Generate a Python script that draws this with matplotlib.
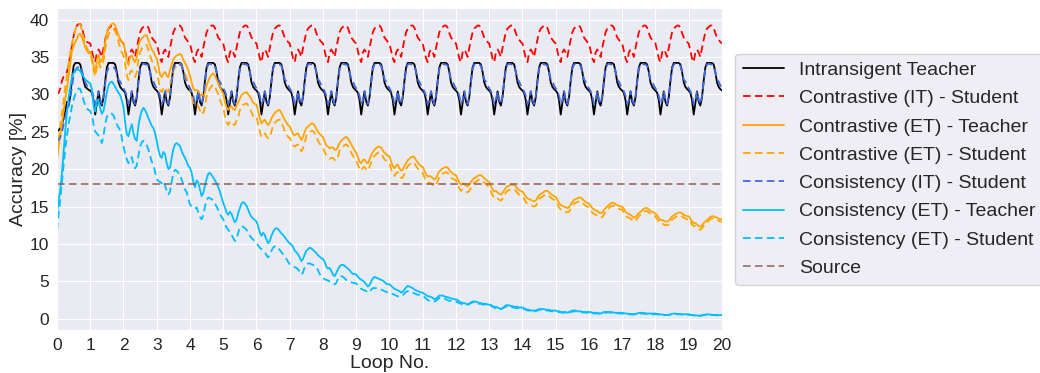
import numpy as np
import matplotlib
matplotlib.use("Agg")
import matplotlib.pyplot as plt
import seaborn as sns

# ---------------- data (20 samples per loop, 0.05 loop spacing) ----------------
n_loops = 20

labels = ["Intransigent Teacher", "Contrastive (IT) - Student", "Contrastive (ET) - Teacher",
          "Contrastive (ET) - Student", "Consistency (IT) - Student", "Consistency (ET) - Teacher",
          "Consistency (ET) - Student", "Source"]

intransigent_teacher = [
    25.0, 25.2, 25.5, 26.0, 26.8, 27.8, 29.0, 28.5, 29.8, 32.0, 33.8, 34.2, 34.2, 34.2, 34.0, 33.0, 31.8, 31.0, 30.8, 30.6,
    30.5, 30.2, 29.2, 27.3, 28.8, 30.4, 29.0, 28.5, 29.6, 31.8, 33.6, 34.2, 34.2, 34.2, 34.2, 34.0, 33.0, 31.6, 31.0, 30.7,
    30.5, 30.2, 29.2, 27.3, 28.8, 30.4, 29.0, 28.5, 29.6, 31.8, 33.6, 34.2, 34.2, 34.2, 34.2, 34.0, 33.0, 31.6, 31.0, 30.7,
    30.5, 30.2, 29.2, 27.3, 28.8, 30.4, 29.0, 28.5, 29.6, 31.8, 33.6, 34.2, 34.2, 34.2, 34.2, 34.0, 33.0, 31.6, 31.0, 30.7,
    30.5, 30.2, 29.2, 27.3, 28.8, 30.4, 29.0, 28.5, 29.6, 31.8, 33.6, 34.2, 34.2, 34.2, 34.2, 34.0, 33.0, 31.6, 31.0, 30.7,
    30.5, 30.2, 29.2, 27.3, 28.8, 30.4, 29.0, 28.5, 29.6, 31.8, 33.6, 34.2, 34.2, 34.2, 34.2, 34.0, 33.0, 31.6, 31.0, 30.7,
    30.5, 30.2, 29.2, 27.3, 28.8, 30.4, 29.0, 28.5, 29.6, 31.8, 33.6, 34.2, 34.2, 34.2, 34.2, 34.0, 33.0, 31.6, 31.0, 30.7,
    30.5, 30.2, 29.2, 27.3, 28.8, 30.4, 29.0, 28.5, 29.6, 31.8, 33.6, 34.2, 34.2, 34.2, 34.2, 34.0, 33.0, 31.6, 31.0, 30.7,
    30.5, 30.2, 29.2, 27.3, 28.8, 30.4, 29.0, 28.5, 29.6, 31.8, 33.6, 34.2, 34.2, 34.2, 34.2, 34.0, 33.0, 31.6, 31.0, 30.7,
    30.5, 30.2, 29.2, 27.3, 28.8, 30.4, 29.0, 28.5, 29.6, 31.8, 33.6, 34.2, 34.2, 34.2, 34.2, 34.0, 33.0, 31.6, 31.0, 30.7,
    30.5, 30.2, 29.2, 27.3, 28.8, 30.4, 29.0, 28.5, 29.6, 31.8, 33.6, 34.2, 34.2, 34.2, 34.2, 34.0, 33.0, 31.6, 31.0, 30.7,
    30.5, 30.2, 29.2, 27.3, 28.8, 30.4, 29.0, 28.5, 29.6, 31.8, 33.6, 34.2, 34.2, 34.2, 34.2, 34.0, 33.0, 31.6, 31.0, 30.7,
    30.5, 30.2, 29.2, 27.3, 28.8, 30.4, 29.0, 28.5, 29.6, 31.8, 33.6, 34.2, 34.2, 34.2, 34.2, 34.0, 33.0, 31.6, 31.0, 30.7,
    30.5, 30.2, 29.2, 27.3, 28.8, 30.4, 29.0, 28.5, 29.6, 31.8, 33.6, 34.2, 34.2, 34.2, 34.2, 34.0, 33.0, 31.6, 31.0, 30.7,
    30.5, 30.2, 29.2, 27.3, 28.8, 30.4, 29.0, 28.5, 29.6, 31.8, 33.6, 34.2, 34.2, 34.2, 34.2, 34.0, 33.0, 31.6, 31.0, 30.7,
    30.5, 30.2, 29.2, 27.3, 28.8, 30.4, 29.0, 28.5, 29.6, 31.8, 33.6, 34.2, 34.2, 34.2, 34.2, 34.0, 33.0, 31.6, 31.0, 30.7,
    30.5, 30.2, 29.2, 27.3, 28.8, 30.4, 29.0, 28.5, 29.6, 31.8, 33.6, 34.2, 34.2, 34.2, 34.2, 34.0, 33.0, 31.6, 31.0, 30.7,
    30.5, 30.2, 29.2, 27.3, 28.8, 30.4, 29.0, 28.5, 29.6, 31.8, 33.6, 34.2, 34.2, 34.2, 34.2, 34.0, 33.0, 31.6, 31.0, 30.7,
    30.5, 30.2, 29.2, 27.3, 28.8, 30.4, 29.0, 28.5, 29.6, 31.8, 33.6, 34.2, 34.2, 34.2, 34.2, 34.0, 33.0, 31.6, 31.0, 30.7,
    30.5, 30.2, 29.2, 27.3, 28.8, 30.4, 29.0, 28.5, 29.6, 31.8, 33.6, 34.2, 34.2, 34.2, 34.2, 34.0, 33.0, 31.6, 31.0, 30.7,
    30.5,
]

contrastive_it_student = [
    30.0, 30.2, 30.8, 31.8, 32.4, 32.6, 33.0, 34.0, 35.2, 36.5, 37.8, 38.7, 39.2, 39.4, 39.4, 39.0, 38.0, 37.3, 37.0, 36.9,
    36.8, 35.8, 34.8, 34.3, 35.6, 36.0, 35.6, 35.0, 36.2, 37.3, 38.3, 38.8, 39.0, 39.2, 39.2, 38.9, 38.2, 37.6, 37.3, 37.0,
    36.8, 35.8, 34.8, 34.3, 35.6, 36.0, 35.6, 35.0, 36.2, 37.3, 38.3, 38.8, 39.0, 39.2, 39.2, 38.9, 38.2, 37.6, 37.3, 37.0,
    36.8, 35.8, 34.8, 34.3, 35.6, 36.0, 35.6, 35.0, 36.2, 37.3, 38.3, 38.8, 39.0, 39.2, 39.2, 38.9, 38.2, 37.6, 37.3, 37.0,
    36.8, 35.8, 34.8, 34.3, 35.6, 36.0, 35.6, 35.0, 36.2, 37.3, 38.3, 38.8, 39.0, 39.2, 39.2, 38.9, 38.2, 37.6, 37.3, 37.0,
    36.8, 35.8, 34.8, 34.3, 35.6, 36.0, 35.6, 35.0, 36.2, 37.3, 38.3, 38.8, 39.0, 39.2, 39.2, 38.9, 38.2, 37.6, 37.3, 37.0,
    36.8, 35.8, 34.8, 34.3, 35.6, 36.0, 35.6, 35.0, 36.2, 37.3, 38.3, 38.8, 39.0, 39.2, 39.2, 38.9, 38.2, 37.6, 37.3, 37.0,
    36.8, 35.8, 34.8, 34.3, 35.6, 36.0, 35.6, 35.0, 36.2, 37.3, 38.3, 38.8, 39.0, 39.2, 39.2, 38.9, 38.2, 37.6, 37.3, 37.0,
    36.8, 35.8, 34.8, 34.3, 35.6, 36.0, 35.6, 35.0, 36.2, 37.3, 38.3, 38.8, 39.0, 39.2, 39.2, 38.9, 38.2, 37.6, 37.3, 37.0,
    36.8, 35.8, 34.8, 34.3, 35.6, 36.0, 35.6, 35.0, 36.2, 37.3, 38.3, 38.8, 39.0, 39.2, 39.2, 38.9, 38.2, 37.6, 37.3, 37.0,
    36.8, 35.8, 34.8, 34.3, 35.6, 36.0, 35.6, 35.0, 36.2, 37.3, 38.3, 38.8, 39.0, 39.2, 39.2, 38.9, 38.2, 37.6, 37.3, 37.0,
    36.8, 35.8, 34.8, 34.3, 35.6, 36.0, 35.6, 35.0, 36.2, 37.3, 38.3, 38.8, 39.0, 39.2, 39.2, 38.9, 38.2, 37.6, 37.3, 37.0,
    36.8, 35.8, 34.8, 34.3, 35.6, 36.0, 35.6, 35.0, 36.2, 37.3, 38.3, 38.8, 39.0, 39.2, 39.2, 38.9, 38.2, 37.6, 37.3, 37.0,
    36.8, 35.8, 34.8, 34.3, 35.6, 36.0, 35.6, 35.0, 36.2, 37.3, 38.3, 38.8, 39.0, 39.2, 39.2, 38.9, 38.2, 37.6, 37.3, 37.0,
    36.8, 35.8, 34.8, 34.3, 35.6, 36.0, 35.6, 35.0, 36.2, 37.3, 38.3, 38.8, 39.0, 39.2, 39.2, 38.9, 38.2, 37.6, 37.3, 37.0,
    36.8, 35.8, 34.8, 34.3, 35.6, 36.0, 35.6, 35.0, 36.2, 37.3, 38.3, 38.8, 39.0, 39.2, 39.2, 38.9, 38.2, 37.6, 37.3, 37.0,
    36.8, 35.8, 34.8, 34.3, 35.6, 36.0, 35.6, 35.0, 36.2, 37.3, 38.3, 38.8, 39.0, 39.2, 39.2, 38.9, 38.2, 37.6, 37.3, 37.0,
    36.8, 35.8, 34.8, 34.3, 35.6, 36.0, 35.6, 35.0, 36.2, 37.3, 38.3, 38.8, 39.0, 39.2, 39.2, 38.9, 38.2, 37.6, 37.3, 37.0,
    36.8, 35.8, 34.8, 34.3, 35.6, 36.0, 35.6, 35.0, 36.2, 37.3, 38.3, 38.8, 39.0, 39.2, 39.2, 38.9, 38.2, 37.6, 37.3, 37.0,
    36.8, 35.8, 34.8, 34.3, 35.6, 36.0, 35.6, 35.0, 36.2, 37.3, 38.3, 38.8, 39.0, 39.2, 39.2, 38.9, 38.2, 37.6, 37.3, 37.0,
    36.8,
]

contrastive_et_teacher = [
    21.2, 23.0, 24.6, 26.0, 27.8, 29.5, 30.8, 32.5, 34.2, 35.8, 36.5, 37.0, 37.4, 38.0, 38.1, 37.6, 37.0, 36.3, 35.8, 35.5,
    35.7, 35.0, 33.8, 33.0, 34.6, 35.3, 34.3, 34.6, 35.3, 37.0, 38.2, 38.9, 39.2, 39.4, 39.5, 39.2, 38.6, 37.9, 37.3, 37.0,
    36.8, 35.8, 34.5, 33.9, 35.0, 35.2, 34.6, 34.3, 35.0, 36.5, 37.2, 37.5, 37.7, 37.9, 37.9, 37.2, 36.6, 36.0, 35.7, 35.2,
    34.8, 33.8, 32.6, 32.3, 32.8, 33.0, 32.5, 32.3, 33.3, 34.0, 34.7, 35.0, 35.2, 35.3, 35.4, 35.2, 34.6, 34.2, 33.8, 33.2,
    32.5, 31.6, 30.8, 30.5, 30.6, 30.4, 29.8, 30.0, 29.5, 30.3, 31.2, 31.8, 32.3, 32.6, 32.8, 32.5, 32.0, 31.5, 31.0, 30.5,
    30.1, 29.0, 28.3, 27.9, 28.3, 28.4, 28.0, 27.9, 28.5, 28.9, 29.4, 29.9, 30.1, 30.2, 30.3, 30.0, 29.7, 29.3, 28.9, 28.7,
    28.6, 27.8, 26.8, 26.1, 26.4, 26.6, 26.2, 25.9, 26.2, 26.8, 27.2, 27.5, 27.7, 27.9, 27.9, 27.5, 27.0, 26.6, 26.2, 25.9,
    25.7, 25.2, 24.7, 24.5, 24.7, 24.8, 24.3, 23.9, 24.3, 25.0, 25.5, 25.7, 25.9, 26.1, 26.1, 25.8, 25.4, 25.0, 24.7, 24.5,
    24.3, 23.7, 23.2, 23.0, 22.8, 22.9, 22.9, 22.6, 22.6, 23.0, 23.5, 23.8, 24.0, 24.2, 24.3, 24.1, 23.7, 23.3, 22.9, 22.5,
    22.2, 21.6, 21.0, 20.8, 21.2, 21.3, 20.9, 20.8, 21.3, 21.9, 22.3, 22.6, 22.8, 23.0, 23.0, 22.9, 22.5, 22.2, 22.0, 21.8,
    21.7, 21.0, 20.4, 20.1, 20.5, 20.6, 20.1, 19.8, 19.9, 20.4, 20.8, 21.2, 21.4, 21.6, 21.7, 21.6, 21.2, 20.9, 20.6, 20.4,
    20.3, 19.8, 19.3, 19.0, 19.1, 19.0, 18.8, 18.6, 18.8, 19.3, 19.7, 19.9, 20.1, 20.2, 20.3, 20.2, 19.9, 19.6, 19.4, 19.3,
    19.2, 18.7, 18.2, 17.9, 18.1, 18.0, 17.8, 17.7, 17.9, 18.3, 18.6, 18.8, 18.9, 19.1, 19.2, 19.2, 19.0, 18.8, 18.6, 18.4,
    18.3, 17.8, 17.3, 17.0, 17.1, 16.9, 16.7, 16.6, 16.8, 17.2, 17.5, 17.7, 17.8, 17.9, 17.9, 17.9, 17.7, 17.4, 17.2, 17.1,
    17.0, 16.7, 16.3, 16.1, 16.0, 15.9, 15.8, 15.7, 15.8, 16.2, 16.5, 16.7, 16.8, 17.0, 17.1, 17.1, 16.9, 16.7, 16.5, 16.4,
    16.3, 15.9, 15.5, 15.2, 15.1, 15.0, 14.9, 14.8, 14.9, 15.3, 15.6, 15.9, 16.0, 16.1, 16.2, 16.2, 16.0, 15.8, 15.6, 15.5,
    15.4, 15.1, 14.8, 14.6, 14.5, 14.4, 14.2, 14.1, 14.2, 14.5, 14.8, 15.0, 15.2, 15.4, 15.5, 15.5, 15.3, 15.2, 15.1, 15.0,
    15.0, 14.7, 14.3, 14.1, 14.0, 13.9, 13.7, 13.5, 13.6, 13.9, 14.1, 14.3, 14.5, 14.7, 14.8, 14.8, 14.6, 14.4, 14.3, 14.2,
    14.1, 13.8, 13.5, 13.2, 13.2, 13.1, 13.0, 13.0, 13.1, 13.4, 13.7, 13.8, 14.0, 14.1, 14.2, 14.2, 14.1, 13.9, 13.8, 13.7,
    13.7, 13.4, 13.0, 12.8, 12.8, 12.6, 12.4, 12.3, 12.5, 12.8, 13.0, 13.2, 13.4, 13.6, 13.7, 13.7, 13.6, 13.5, 13.4, 13.3,
    13.3,
]

contrastive_et_student = [
    22.3, 24.0, 25.8, 27.5, 29.2, 31.0, 32.5, 34.0, 35.6, 36.8, 37.8, 38.6, 39.2, 39.5, 39.3, 38.6, 37.6, 36.8, 36.2, 35.6,
    35.4, 34.5, 33.2, 32.4, 33.6, 34.4, 33.6, 33.8, 34.5, 36.0, 37.2, 38.0, 38.4, 38.6, 38.7, 38.5, 37.9, 37.0, 36.2, 35.6,
    35.2, 34.0, 32.6, 31.9, 33.0, 33.2, 32.6, 32.3, 33.0, 34.6, 35.6, 36.1, 36.4, 36.6, 36.6, 35.9, 35.2, 34.5, 34.0, 33.4,
    33.0, 31.9, 30.6, 30.3, 30.8, 31.0, 30.5, 30.3, 31.3, 32.2, 33.2, 33.6, 33.9, 34.0, 34.1, 33.9, 33.2, 32.7, 32.2, 31.5,
    30.8, 29.8, 28.8, 28.5, 28.6, 28.4, 27.8, 28.0, 27.5, 28.3, 29.7, 30.3, 30.8, 31.1, 31.3, 31.0, 30.5, 30.0, 29.3, 28.7,
    28.3, 27.1, 26.3, 25.9, 26.3, 26.4, 26.0, 25.9, 26.5, 26.9, 27.9, 28.4, 28.6, 28.7, 28.8, 28.5, 28.2, 27.6, 27.1, 26.9,
    27.0, 26.0, 25.0, 24.3, 24.6, 24.8, 24.4, 24.1, 24.4, 25.0, 25.9, 26.2, 26.4, 26.6, 26.6, 26.2, 25.7, 25.1, 24.6, 24.3,
    24.2, 23.7, 23.2, 23.0, 23.2, 23.3, 22.8, 22.4, 22.8, 23.5, 24.5, 24.7, 24.9, 25.1, 25.1, 24.8, 24.4, 23.8, 23.4, 23.1,
    22.9, 22.3, 21.8, 21.6, 21.4, 21.5, 21.5, 21.2, 21.2, 21.6, 22.5, 22.8, 23.0, 23.2, 23.3, 23.1, 22.7, 22.2, 21.8, 21.4,
    21.2, 20.6, 20.0, 19.8, 20.2, 20.3, 19.9, 19.8, 20.3, 20.9, 21.5, 21.8, 22.0, 22.2, 22.2, 22.1, 21.7, 21.3, 21.1, 20.9,
    20.8, 20.0, 19.4, 19.1, 19.5, 19.6, 19.1, 18.8, 18.9, 19.4, 20.0, 20.4, 20.6, 20.8, 20.9, 20.8, 20.4, 20.1, 19.8, 19.6,
    19.5, 18.9, 18.4, 18.1, 18.2, 18.1, 17.9, 17.7, 17.9, 18.4, 19.0, 19.2, 19.4, 19.5, 19.6, 19.5, 19.2, 18.9, 18.7, 18.6,
    18.5, 17.9, 17.4, 17.1, 17.3, 17.2, 17.0, 16.9, 17.1, 17.5, 18.0, 18.2, 18.3, 18.5, 18.6, 18.6, 18.4, 18.2, 18.0, 17.8,
    17.6, 17.0, 16.5, 16.2, 16.3, 16.1, 15.9, 15.8, 16.0, 16.4, 16.9, 17.1, 17.2, 17.3, 17.3, 17.3, 17.1, 16.8, 16.6, 16.5,
    16.4, 16.0, 15.6, 15.4, 15.3, 15.2, 15.1, 15.0, 15.1, 15.5, 16.0, 16.2, 16.3, 16.5, 16.6, 16.6, 16.4, 16.2, 16.0, 15.9,
    15.8, 15.3, 14.9, 14.6, 14.5, 14.4, 14.3, 14.2, 14.3, 14.7, 15.1, 15.4, 15.5, 15.6, 15.7, 15.7, 15.5, 15.3, 15.1, 15.0,
    14.9, 14.5, 14.2, 14.0, 13.9, 13.8, 13.6, 13.5, 13.6, 13.9, 14.4, 14.6, 14.8, 15.0, 15.1, 15.1, 14.9, 14.8, 14.7, 14.6,
    14.6, 14.2, 13.8, 13.6, 13.5, 13.4, 13.2, 13.0, 13.1, 13.4, 13.7, 13.9, 14.1, 14.3, 14.4, 14.4, 14.2, 14.0, 13.9, 13.8,
    13.7, 13.3, 13.0, 12.7, 12.7, 12.6, 12.5, 12.5, 12.6, 12.9, 13.3, 13.4, 13.6, 13.7, 13.8, 13.8, 13.7, 13.5, 13.4, 13.3,
    13.4, 13.0, 12.6, 12.4, 12.4, 12.2, 12.0, 11.9, 12.1, 12.4, 12.7, 12.9, 13.1, 13.3, 13.4, 13.4, 13.3, 13.2, 13.1, 13.0,
    13.0,
]

consistency_it_student = [
    23.7, 23.9, 24.3, 25.0, 26.0, 27.0, 28.0, 28.5, 29.5, 31.0, 32.5, 33.2, 33.5, 33.7, 33.8, 33.2, 32.3, 31.6, 31.2, 30.9,
    30.8, 30.4, 29.8, 28.7, 29.2, 30.4, 29.3, 28.7, 29.8, 31.4, 33.0, 33.5, 33.6, 33.6, 33.6, 33.4, 32.8, 32.0, 31.7, 31.2,
    30.8, 30.4, 29.8, 28.7, 29.2, 30.4, 29.3, 28.7, 29.8, 31.6, 33.4, 34.0, 34.1, 34.0, 34.0, 33.8, 33.0, 32.0, 31.7, 31.2,
    30.8, 30.4, 29.8, 28.7, 29.2, 30.4, 29.3, 28.7, 29.8, 31.6, 33.4, 34.0, 34.1, 34.0, 34.0, 33.8, 33.0, 32.0, 31.7, 31.2,
    30.8, 30.4, 29.8, 28.7, 29.2, 30.4, 29.3, 28.7, 29.8, 31.6, 33.4, 34.0, 34.1, 34.0, 34.0, 33.8, 33.0, 32.0, 31.7, 31.2,
    30.8, 30.4, 29.8, 28.7, 29.2, 30.4, 29.3, 28.7, 29.8, 31.6, 33.4, 34.0, 34.1, 34.0, 34.0, 33.8, 33.0, 32.0, 31.7, 31.2,
    30.8, 30.4, 29.8, 28.7, 29.2, 30.4, 29.3, 28.7, 29.8, 31.6, 33.4, 34.0, 34.1, 34.0, 34.0, 33.8, 33.0, 32.0, 31.7, 31.2,
    30.8, 30.4, 29.8, 28.7, 29.2, 30.4, 29.3, 28.7, 29.8, 31.6, 33.4, 34.0, 34.1, 34.0, 34.0, 33.8, 33.0, 32.0, 31.7, 31.2,
    30.8, 30.4, 29.8, 28.7, 29.2, 30.4, 29.3, 28.7, 29.8, 31.6, 33.4, 34.0, 34.1, 34.0, 34.0, 33.8, 33.0, 32.0, 31.7, 31.2,
    30.8, 30.4, 29.8, 28.7, 29.2, 30.4, 29.3, 28.7, 29.8, 31.6, 33.4, 34.0, 34.1, 34.0, 34.0, 33.8, 33.0, 32.0, 31.7, 31.2,
    30.8, 30.4, 29.8, 28.7, 29.2, 30.4, 29.3, 28.7, 29.8, 31.6, 33.4, 34.0, 34.1, 34.0, 34.0, 33.8, 33.0, 32.0, 31.7, 31.2,
    30.8, 30.4, 29.8, 28.7, 29.2, 30.4, 29.3, 28.7, 29.8, 31.6, 33.4, 34.0, 34.1, 34.0, 34.0, 33.8, 33.0, 32.0, 31.7, 31.2,
    30.8, 30.4, 29.8, 28.7, 29.2, 30.4, 29.3, 28.7, 29.8, 31.6, 33.4, 34.0, 34.1, 34.0, 34.0, 33.8, 33.0, 32.0, 31.7, 31.2,
    30.8, 30.4, 29.8, 28.7, 29.2, 30.4, 29.3, 28.7, 29.8, 31.6, 33.4, 34.0, 34.1, 34.0, 34.0, 33.8, 33.0, 32.0, 31.7, 31.2,
    30.8, 30.4, 29.8, 28.7, 29.2, 30.4, 29.3, 28.7, 29.8, 31.6, 33.4, 34.0, 34.1, 34.0, 34.0, 33.8, 33.0, 32.0, 31.7, 31.2,
    30.8, 30.4, 29.8, 28.7, 29.2, 30.4, 29.3, 28.7, 29.8, 31.6, 33.4, 34.0, 34.1, 34.0, 34.0, 33.8, 33.0, 32.0, 31.7, 31.2,
    30.8, 30.4, 29.8, 28.7, 29.2, 30.4, 29.3, 28.7, 29.8, 31.6, 33.4, 34.0, 34.1, 34.0, 34.0, 33.8, 33.0, 32.0, 31.7, 31.2,
    30.8, 30.4, 29.8, 28.7, 29.2, 30.4, 29.3, 28.7, 29.8, 31.6, 33.4, 34.0, 34.1, 34.0, 34.0, 33.8, 33.0, 32.0, 31.7, 31.2,
    30.8, 30.4, 29.8, 28.7, 29.2, 30.4, 29.3, 28.7, 29.8, 31.6, 33.4, 34.0, 34.1, 34.0, 34.0, 33.8, 33.0, 32.0, 31.7, 31.2,
    30.8, 30.4, 29.8, 28.7, 29.2, 30.4, 29.3, 28.7, 29.8, 31.6, 33.4, 34.0, 34.1, 34.0, 34.0, 33.8, 33.0, 32.0, 31.7, 31.2,
    30.9,
]

consistency_et_teacher = [
    13.8, 15.8, 17.3, 19.5, 22.4, 25.2, 27.6, 29.6, 31.0, 32.3, 32.9, 33.2, 33.3, 33.3, 33.1, 32.7, 32.3, 32.0, 31.8, 31.6,
    31.5, 30.6, 28.5, 27.7, 29.3, 29.0, 28.1, 27.4, 27.8, 29.0, 30.3, 31.2, 31.6, 31.7, 31.4, 31.0, 30.6, 30.2, 29.9, 29.2,
    28.3, 26.2, 24.7, 24.4, 25.3, 26.0, 24.8, 24.0, 23.8, 25.8, 27.0, 27.8, 28.2, 27.9, 27.4, 26.8, 26.3, 25.8, 25.5, 24.8,
    23.8, 22.6, 21.8, 21.5, 22.3, 22.0, 20.8, 20.0, 20.2, 21.5, 22.7, 23.3, 23.5, 23.3, 23.1, 22.4, 21.9, 21.5, 21.0, 20.4,
    20.2, 19.5, 18.3, 17.6, 18.5, 18.2, 17.3, 16.4, 16.8, 17.8, 18.7, 19.4, 19.5, 19.2, 18.9, 18.5, 18.1, 17.6, 17.0, 16.2,
    15.5, 14.9, 14.2, 13.9, 14.3, 14.0, 13.4, 12.9, 13.2, 14.1, 14.8, 15.4, 15.6, 15.4, 15.1, 14.6, 14.0, 13.6, 13.4, 13.2,
    13.0, 12.4, 11.5, 11.1, 11.5, 11.2, 10.6, 10.1, 10.4, 11.1, 11.6, 12.0, 12.1, 12.0, 11.7, 11.4, 11.2, 10.9, 10.6, 10.3,
    10.1, 9.9, 9.6, 9.1, 8.9, 8.6, 8.2, 7.7, 8.0, 8.6, 9.1, 9.3, 9.5, 9.4, 9.2, 9.0, 8.8, 8.5, 8.3, 8.1,
    8.0, 7.6, 7.0, 6.7, 6.8, 6.4, 5.9, 5.7, 6.1, 6.6, 7.0, 7.2, 7.2, 7.1, 6.9, 6.7, 6.5, 6.2, 6.0, 6.0,
    5.9, 5.6, 5.4, 5.2, 5.1, 4.9, 4.6, 4.3, 4.5, 5.0, 5.4, 5.6, 5.5, 5.4, 5.3, 5.2, 5.1, 4.9, 4.7, 4.6,
    4.6, 4.4, 4.2, 4.0, 3.9, 3.8, 3.7, 3.5, 3.6, 3.9, 4.2, 4.4, 4.3, 4.2, 4.1, 3.9, 3.8, 3.7, 3.6, 3.5,
    3.5, 3.3, 3.2, 3.0, 3.0, 2.9, 2.8, 2.6, 2.7, 2.9, 3.1, 3.1, 3.1, 3.0, 2.9, 2.9, 2.8, 2.7, 2.7, 2.6,
    2.6, 2.5, 2.3, 2.2, 2.1, 2.1, 2.0, 1.9, 2.0, 2.2, 2.3, 2.3, 2.3, 2.2, 2.1, 2.1, 2.0, 2.0, 2.0, 1.9,
    1.9, 1.8, 1.7, 1.6, 1.6, 1.5, 1.4, 1.3, 1.4, 1.6, 1.8, 1.8, 1.8, 1.7, 1.7, 1.6, 1.6, 1.6, 1.5, 1.5,
    1.5, 1.4, 1.3, 1.2, 1.2, 1.1, 1.1, 1.1, 1.1, 1.2, 1.3, 1.3, 1.3, 1.3, 1.2, 1.2, 1.2, 1.1, 1.1, 1.1,
    1.1, 1.0, 1.0, 0.9, 0.9, 0.9, 0.9, 0.8, 0.9, 1.0, 1.1, 1.1, 1.1, 1.0, 1.0, 1.0, 0.9, 0.9, 0.9, 0.9,
    0.9, 0.9, 0.8, 0.8, 0.8, 0.8, 0.7, 0.7, 0.8, 0.9, 0.9, 0.9, 0.9, 0.9, 0.9, 0.8, 0.8, 0.8, 0.8, 0.8,
    0.8, 0.75, 0.7, 0.7, 0.65, 0.65, 0.6, 0.6, 0.65, 0.7, 0.8, 0.8, 0.8, 0.75, 0.75, 0.7, 0.7, 0.7, 0.7, 0.7,
    0.7, 0.65, 0.6, 0.6, 0.55, 0.55, 0.5, 0.5, 0.55, 0.6, 0.65, 0.7, 0.7, 0.65, 0.65, 0.6, 0.6, 0.6, 0.6, 0.6,
    0.6, 0.55, 0.5, 0.5, 0.45, 0.45, 0.4, 0.4, 0.45, 0.5, 0.55, 0.6, 0.6, 0.55, 0.55, 0.5, 0.5, 0.5, 0.5, 0.5,
    0.5,
]

consistency_et_student = [
    11.8, 14.0, 16.0, 18.3, 20.6, 22.8, 24.5, 26.0, 27.2, 28.4, 29.3, 30.0, 30.5, 30.8, 30.7, 30.0, 29.2, 28.5, 28.1, 27.9,
    27.8, 27.2, 26.0, 25.0, 24.8, 24.5, 24.0, 23.5, 24.5, 26.0, 27.0, 27.3, 27.5, 27.4, 27.2, 26.6, 26.0, 25.6, 25.2, 24.2,
    23.0, 22.1, 21.3, 20.8, 21.5, 21.6, 20.6, 20.1, 20.5, 21.8, 23.0, 23.6, 23.8, 23.5, 23.2, 22.6, 21.8, 21.0, 20.6, 19.6,
    18.7, 18.4, 18.3, 18.1, 18.4, 17.8, 17.1, 16.6, 17.0, 18.3, 19.5, 19.9, 19.8, 19.5, 19.3, 18.6, 18.0, 17.3, 16.9, 16.0,
    15.3, 15.0, 14.8, 14.7, 14.9, 14.2, 13.6, 13.3, 13.8, 15.0, 15.9, 16.2, 16.1, 16.0, 15.8, 15.4, 15.0, 14.5, 14.0, 13.6,
    13.3, 12.7, 12.2, 11.9, 11.6, 11.2, 10.8, 10.4, 10.6, 11.5, 12.2, 12.4, 12.3, 12.1, 11.9, 11.5, 11.1, 10.8, 10.6, 10.3,
    10.1, 9.8, 9.5, 9.3, 9.1, 8.9, 8.5, 8.2, 8.5, 9.1, 9.5, 9.7, 9.7, 9.5, 9.2, 8.9, 8.6, 8.3, 8.0, 7.6,
    7.3, 7.1, 7.0, 6.9, 6.8, 6.6, 6.3, 5.9, 6.2, 6.9, 7.3, 7.4, 7.4, 7.3, 7.2, 7.1, 6.9, 6.5, 6.0, 5.6,
    5.4, 5.3, 5.2, 5.1, 5.0, 4.9, 4.8, 4.6, 4.8, 5.3, 5.7, 5.7, 5.6, 5.4, 5.2, 5.1, 5.0, 4.9, 4.8, 4.8,
    4.7, 4.5, 4.2, 4.0, 3.9, 3.8, 3.7, 3.5, 3.6, 3.9, 4.1, 4.1, 4.1, 4.1, 4.0, 3.9, 3.8, 3.7, 3.6, 3.5,
    3.5, 3.4, 3.3, 3.2, 3.1, 3.0, 3.0, 3.0, 3.1, 3.4, 3.6, 3.7, 3.7, 3.6, 3.5, 3.4, 3.3, 3.2, 3.2, 3.2,
    3.1, 2.9, 2.7, 2.5, 2.4, 2.3, 2.3, 2.3, 2.4, 2.6, 2.8, 2.8, 2.8, 2.7, 2.6, 2.5, 2.4, 2.4, 2.3, 2.3,
    2.3, 2.2, 2.1, 2.0, 1.9, 1.9, 1.9, 1.9, 2.0, 2.1, 2.2, 2.2, 2.2, 2.1, 2.0, 2.0, 1.9, 1.9, 1.9, 1.9,
    1.9, 1.8, 1.6, 1.5, 1.4, 1.4, 1.3, 1.3, 1.4, 1.5, 1.6, 1.7, 1.6, 1.6, 1.5, 1.5, 1.4, 1.4, 1.4, 1.3,
    1.3, 1.3, 1.2, 1.1, 1.1, 1.0, 1.0, 1.0, 1.0, 1.1, 1.2, 1.2, 1.2, 1.2, 1.1, 1.1, 1.1, 1.0, 1.0, 1.0,
    1.0, 0.95, 0.9, 0.85, 0.8, 0.8, 0.8, 0.8, 0.8, 0.9, 0.95, 1.0, 1.0, 0.95, 0.9, 0.9, 0.85, 0.85, 0.8, 0.8,
    0.8, 0.8, 0.75, 0.7, 0.7, 0.7, 0.7, 0.7, 0.7, 0.75, 0.8, 0.85, 0.85, 0.8, 0.8, 0.75, 0.75, 0.75, 0.7, 0.7,
    0.7, 0.7, 0.65, 0.65, 0.6, 0.6, 0.6, 0.6, 0.6, 0.65, 0.7, 0.7, 0.7, 0.7, 0.65, 0.65, 0.65, 0.6, 0.6, 0.6,
    0.6, 0.6, 0.55, 0.55, 0.5, 0.5, 0.5, 0.5, 0.5, 0.55, 0.6, 0.65, 0.65, 0.6, 0.6, 0.6, 0.55, 0.55, 0.55, 0.55,
    0.55, 0.5, 0.5, 0.45, 0.45, 0.45, 0.4, 0.4, 0.45, 0.5, 0.5, 0.55, 0.55, 0.5, 0.5, 0.5, 0.5, 0.45, 0.45, 0.45,
    0.45,
]

source_accuracy = 18.0

# ---------------- plotting ----------------
sns.set_style("darkgrid")
plt.rcParams["font.family"] = ["Liberation Sans", "DejaVu Sans"]

fig = plt.figure(figsize=(10.4, 3.73), dpi=100)
ax = fig.add_axes([0.0548, 0.1153, 0.6394, 0.8624])

dash = (0, (4.2, 2.4))
lw = 1.3
series = [
    (intransigent_teacher, "black", "-"),
    (contrastive_it_student, "red", dash),
    (contrastive_et_teacher, "orange", "-"),
    (contrastive_et_student, "orange", dash),
    (consistency_it_student, "royalblue", dash),
    (consistency_et_teacher, "deepskyblue", "-"),
    (consistency_et_student, "deepskyblue", dash),
]
for (vals, col, ls), lab in zip(series, labels[:-1]):
    xs = np.linspace(0, n_loops, len(vals))
    ax.plot(xs, vals, color=col, linestyle=ls, linewidth=lw, label=lab)

ax.plot([0, n_loops], [source_accuracy, source_accuracy], color="#8c564b", alpha=0.8,
        linestyle=dash, linewidth=lw, label=labels[-1])

ax.set_xlim(0, n_loops)
ax.set_ylim(-1.5, 41.5)
ax.set_xticks(np.arange(0, n_loops + 1, 1))
ax.set_yticks(np.arange(0, 41, 5))
ax.tick_params(axis="both", labelsize=12.5, pad=2)
ax.set_xlabel("Loop No.", fontsize=14, labelpad=2)
ax.set_ylabel("Accuracy [%]", fontsize=14, labelpad=2)

ax.legend(loc="center left", bbox_to_anchor=(1.005, 0.5), fontsize=14.0,
          handlelength=2.1, labelspacing=0.55, frameon=True)

fig.savefig("out.png", dpi=100)
